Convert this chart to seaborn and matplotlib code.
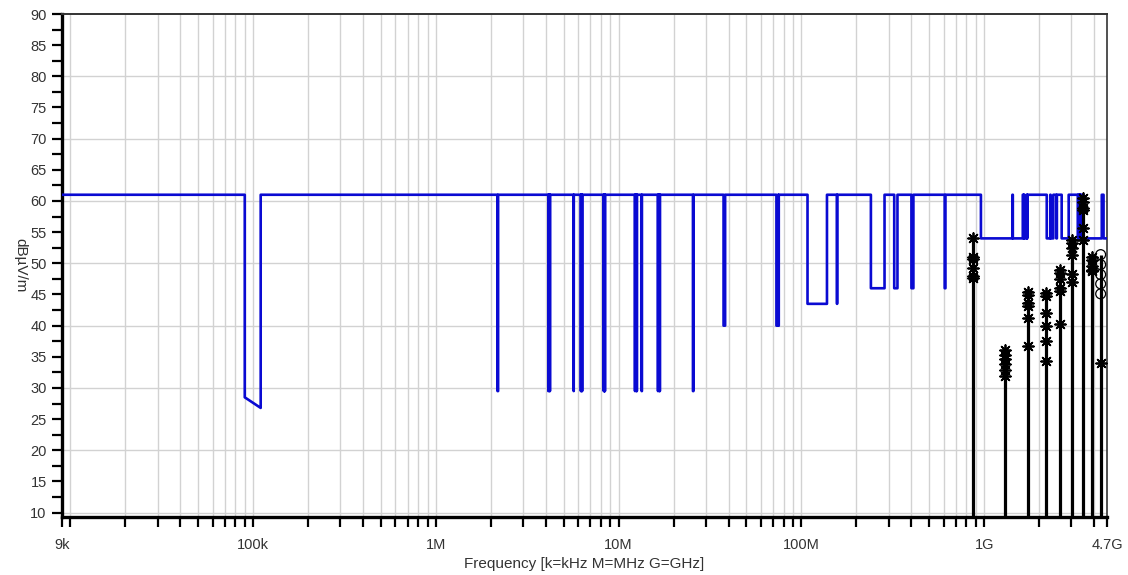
import numpy as np
import pandas as pd
import matplotlib
matplotlib.use("Agg")
import matplotlib.pyplot as plt
import seaborn as sns
from matplotlib.ticker import FixedLocator, MultipleLocator, FixedFormatter, NullFormatter

# ---------------- data ----------------
x_min_hz = 9e3
x_max_hz = 4.7e9
y_min = 9.3
y_max = 90.0

base_level = 61.0  # limit level outside restricted bands

# restricted-band notches of the limit line (Hz) and the level inside them
band_start_hz = [90e3, 2.1735e6, 4.125e6, 4.17725e6, 4.20725e6, 5.677e6,
                 6.215e6, 6.26775e6, 6.31175e6, 8.291e6, 8.362e6, 8.37625e6,
                 8.41425e6, 12.29e6, 12.51975e6, 12.57675e6, 13.36e6,
                 16.42e6, 16.69475e6, 16.80425e6, 25.5e6,
                 37.5e6, 73e6, 74.8e6,
                 108e6, 156.52475e6, 156.7e6,
                 240e6, 322e6, 399.9e6, 608e6,
                 960e6, 1435e6, 1645.5e6, 1660e6, 1718.8e6, 2200e6, 2310e6,
                 2483.5e6, 2655e6, 3260e6, 3332e6, 3345.8e6, 3500e6, 4500e6]
band_stop_hz = [110e3, 2.1905e6, 4.128e6, 4.17775e6, 4.20775e6, 5.683e6,
                6.218e6, 6.26825e6, 6.31225e6, 8.294e6, 8.366e6, 8.38675e6,
                8.41475e6, 12.293e6, 12.52025e6, 12.57725e6, 13.41e6,
                16.423e6, 16.69525e6, 16.80475e6, 25.67e6,
                38.25e6, 74.6e6, 75.2e6,
                138e6, 156.52525e6, 156.9e6,
                285e6, 335.4e6, 410e6, 614e6,
                1427e6, 1626.5e6, 1646.5e6, 1710e6, 1722.2e6, 2300e6, 2390e6,
                2500e6, 2900e6, 3267e6, 3339e6, 3358e6, 4400e6, 4700e6]
band_level_start = [28.5] + [29.5] * 20 + [40.0] * 3 + [43.5] * 3 + [46.0] * 4 + [54.0] * 14
band_level_stop = [26.8] + [29.5] * 20 + [40.0] * 3 + [43.5] * 3 + [46.0] * 4 + [54.0] * 14

# measured emissions (harmonics)
harm_freq_hz = [868e6, 1302e6, 1736e6, 2170e6, 2604e6, 3037e6, 3471e6, 3905e6, 4339e6]
harm_star_levels = [
    [54.1, 51.0, 50.7, 49.2, 48.0, 47.7],
    [36.1, 35.3, 34.6, 33.8, 32.9, 32.0],
    [45.4, 44.9, 43.6, 43.2, 41.2, 36.7],
    [45.2, 44.7, 42.1, 39.9, 37.6, 34.4],
    [49.0, 48.4, 47.5, 46.0, 45.6, 40.3],
    [53.8, 53.2, 52.4, 51.3, 48.3, 47.0],
    [60.5, 59.9, 58.9, 58.5, 55.6, 53.8],
    [51.0, 50.6, 49.5, 49.0, 48.7],
    [34.0],
]
harm_circle_levels = [[], [], [], [], [], [], [], [], [51.4, 49.8, 48.2, 46.7, 45.1]]

major_ticks_hz = [9e3, 1e5, 1e6, 1e7, 1e8, 1e9, 4.7e9]
major_tick_labels = ["9k", "100k", "1M", "10M", "100M", "1G", "4.7G"]
x_label = "Frequency [k=kHz M=MHz G=GHz]"
y_label = "dBµV/m"

# ---------------- build tables ----------------
lx, ly = [x_min_hz], [base_level]
for lo, hi, l1, l2 in zip(band_start_hz, band_stop_hz, band_level_start, band_level_stop):
    lx += [lo, lo, hi]
    ly += [base_level, l1, l2]
    if hi < x_max_hz:
        lx.append(hi)
        ly.append(base_level)
if lx[-1] < x_max_hz:
    lx.append(x_max_hz)
    ly.append(base_level)
limit_df = pd.DataFrame({"freq": lx, "level": ly})

star_rows = [(f, v) for f, lv in zip(harm_freq_hz, harm_star_levels) for v in lv]
circle_rows = [(f, v) for f, lv in zip(harm_freq_hz, harm_circle_levels) for v in lv]
star_df = pd.DataFrame(star_rows, columns=["freq", "level"])
circle_df = pd.DataFrame(circle_rows, columns=["freq", "level"])
stem_tops = [max(a + b) for a, b in zip(harm_star_levels, harm_circle_levels)]

# ---------------- style ----------------
sns.set_style("white")
plt.rcParams["font.family"] = ["Liberation Sans", "DejaVu Sans"]

fig = plt.figure(figsize=(11.28, 5.75), dpi=100)
ax = fig.add_axes([62 / 1128, 1 - 517 / 575, (1107 - 62) / 1128, (517 - 14) / 575])
ax.set_xscale("log")
ax.set_xlim(x_min_hz, x_max_hz)
ax.set_ylim(y_min, y_max)

# grid
minor_x = []
for dec in range(4, 10):
    for m in range(1, 10):
        v = m * 10 ** dec
        if x_min_hz < v < x_max_hz and v not in major_ticks_hz:
            minor_x.append(v)
ax.xaxis.set_major_locator(FixedLocator(major_ticks_hz))
ax.xaxis.set_major_formatter(FixedFormatter(major_tick_labels))
ax.xaxis.set_minor_locator(FixedLocator(minor_x))
ax.xaxis.set_minor_formatter(NullFormatter())
ax.yaxis.set_major_locator(MultipleLocator(5))
ax.yaxis.set_minor_locator(MultipleLocator(2.5))

ax.grid(False)
for v in minor_x + major_ticks_hz[1:-1]:
    ax.axvline(v, color="#d2d2d2", lw=1.0, zorder=0)
for v in [10, 20, 30, 40, 50, 60, 70, 80]:
    ax.axhline(v, color="#d2d2d2", lw=1.0, zorder=0)

# limit line
sns.lineplot(data=limit_df, x="freq", y="level", estimator=None, sort=False,
             color="#0a0ad2", lw=1.9, ax=ax, zorder=3)

# stems & markers
ax.vlines(harm_freq_hz, y_min, stem_tops, color="black", lw=2.3, zorder=4)
sns.scatterplot(data=star_df, x="freq", y="level", marker=(8, 2, 0), color="black",
                s=60, linewidth=1.3, ax=ax, zorder=5)
sns.scatterplot(data=circle_df, x="freq", y="level", marker="o", facecolor="none",
                edgecolor="black", s=50, linewidth=0.9, ax=ax, zorder=5)

# spines / ticks
for side in ["left", "bottom"]:
    ax.spines[side].set_color("black")
    ax.spines[side].set_linewidth(2.4)
ax.spines["top"].set_color("#333333")
ax.spines["top"].set_linewidth(1.4)
ax.spines["right"].set_color("#333333")
ax.spines["right"].set_linewidth(1.2)

ax.tick_params(axis="both", which="both", direction="out", length=7, width=1.6,
               color="black", labelcolor="#333333", labelsize=10.5)
ax.tick_params(axis="x", which="both", bottom=True, top=False, pad=8)
ax.tick_params(axis="y", which="both", left=True, right=False, pad=4)

ax.set_xlabel(x_label, fontsize=11, color="#333333", labelpad=4)
ax.set_ylabel(y_label, fontsize=11, color="#333333", rotation=270)
ax.yaxis.label.set_verticalalignment("center")
ax.yaxis.label.set_horizontalalignment("center")
ax.yaxis.set_label_coords(-0.040, 0.5)

fig.savefig("out.png", dpi=100)
